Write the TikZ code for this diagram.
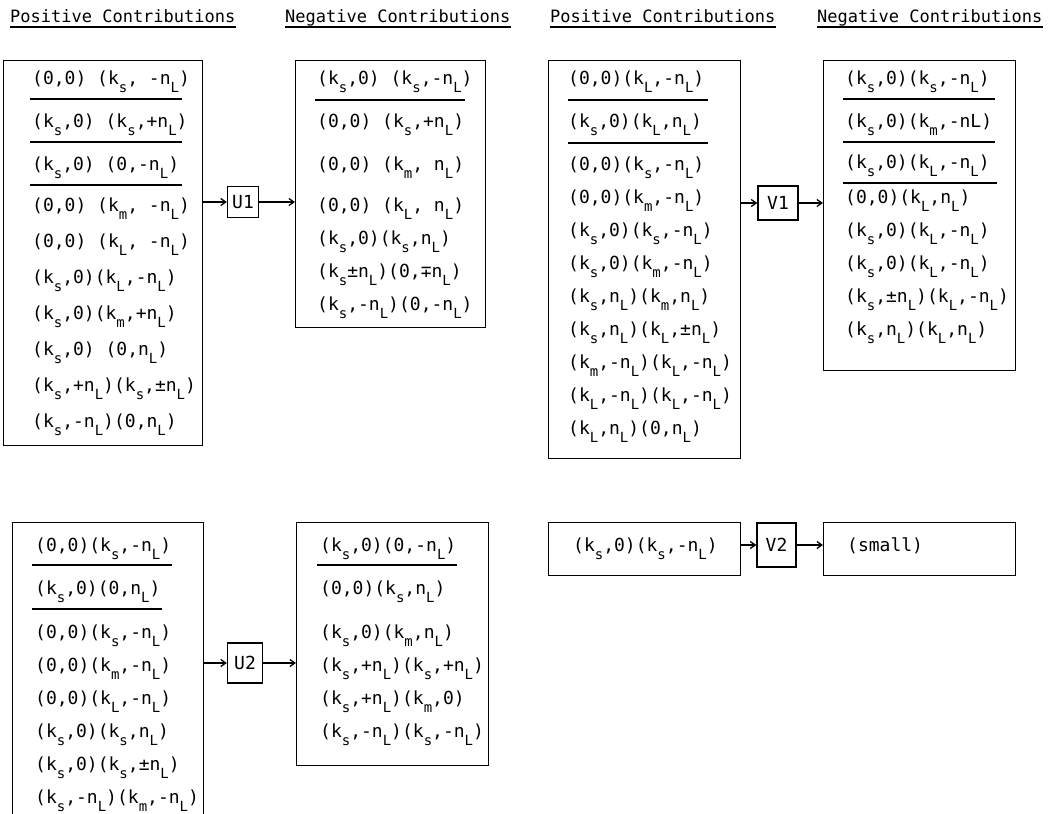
\documentclass[tikz,border=0pt]{standalone}
\usepackage{fontspec}
\newfontfamily\tw{DejaVu Sans Mono}
\usetikzlibrary{arrows.meta}
% lowered (typewriter-style) subscript
\newcommand\lo[1]{\raisebox{-0.45em}{\fontsize{14}{14}\selectfont #1}}
\newcommand\ks{k\lo{s}}
\newcommand\km{k\lo{m}}
\newcommand\kL{k\lo{L}}
\newcommand\nL{n\lo{L}}
\tikzset{
  frame/.style={draw, line width=1.3pt, inner sep=0pt, anchor=north west},
  op/.style={draw, line width=1.3pt, inner sep=0pt, font=\tw\fontsize{18}{18}\selectfont},
  row/.style={anchor=base west, inner sep=0pt, font=\tw\fontsize{18}{18}\selectfont},
  head/.style={anchor=base west, inner sep=0pt, font=\tw\fontsize{17}{17}\selectfont},
  rule/.style={line width=1.1pt},
  arr/.style={line width=1.3pt, -{Straight Barb[length=5pt,width=7pt]}},
}
\begin{document}
\begin{tikzpicture}[x=1pt,y=-1pt]
\useasboundingbox[fill=white] (0,0) rectangle (1061,814);

% column headings
\node[head] (h1) at (10,22) {Positive Contributions};
\node[head] (h2) at (285,22) {Negative Contributions};
\node[head] (h3) at (550,22) {Positive Contributions};
\node[head] (h4) at (817,22) {Negative Contributions};
\foreach \h in {h1,h2,h3,h4}
  \draw[rule] ([yshift=-5pt]\h.base west) -- ([yshift=-5pt]\h.base east);

% ---------- U1 ----------
\node[frame, minimum width=199pt, minimum height=385pt] (b1) at (3,60) {};
\node[row] (b1r1) at (32,84) {(0,0) (\ks, -\nL)};
\node[row] (b1r2) at (32,127) {(\ks,0) (\ks,+\nL)};
\node[row] (b1r3) at (32,170) {(\ks,0) (0,-\nL)};
\node[row] (b1r4) at (32,211) {(0,0) (\km, -\nL)};
\node[row] (b1r5) at (32,247) {(0,0) (\kL, -\nL)};
\node[row] (b1r6) at (32,283) {(\ks,0)(\kL,-\nL )};
\node[row] (b1r7) at (32,319) {(\ks,0)(\km,+\nL )};
\node[row] (b1r8) at (32,355) {(\ks,0) (0,\nL )};
\node[row] (b1r9) at (32,391) {(\ks,+\nL)(\ks,±\nL)};
\node[row] (b1r10) at (32,427) {(\ks,-\nL)(0,\nL)};
\draw[rule] (30,99) -- (182,99);
\draw[rule] (30,142) -- (182,142);
\draw[rule] (30,185) -- (182,185);

\node[op, minimum width=31pt, minimum height=31pt] (U1) at (243,202) {U1};

\node[frame, minimum width=190pt, minimum height=267pt] (b2) at (295,60) {};
\node[row] (b2r1) at (317,84) {(\ks,0) (\ks,-\nL)};
\node[row] (b2r2) at (317,127) {(0,0) (\ks,+\nL )};
\node[row] (b2r3) at (317,170) {(0,0) (\km, \nL )};
\node[row] (b2r4) at (317,211) {(0,0) (\kL, \nL)};
\node[row] (b2r5) at (317,244) {(\ks,0)(\ks,\nL)};
\node[row] (b2r6) at (317,277) {(\ks±\nL)(0,∓\nL)};
\node[row] (b2r7) at (317,310) {(\ks,-\nL)(0,-\nL)};
\draw[rule] (315,100) -- (465,100);

\draw[arr] (U1.west -| b1.east) -- (U1.west);
\draw[arr] (U1.east) -- (U1.east -| b2.west);

% ---------- V1 ----------
\node[frame, minimum width=192pt, minimum height=398pt] (b3) at (548,60) {};
\node[row] (b3r1) at (568,84) {(0,0)(\kL,-\nL)};
\node[row] (b3r2) at (568,127) {(\ks,0)(\kL,\nL)};
\node[row] (b3r3) at (568,170) {(0,0)(\ks,-\nL)};
\node[row] (b3r4) at (568,203) {(0,0)(\km,-\nL)};
\node[row] (b3r5) at (568,236) {(\ks,0)(\ks,-\nL)};
\node[row] (b3r6) at (568,269) {(\ks,0)(\km,-\nL)};
\node[row] (b3r7) at (568,302) {(\ks,\nL)(\km,\nL)};
\node[row] (b3r8) at (568,335) {(\ks,\nL)(\kL,±\nL)};
\node[row] (b3r9) at (568,368) {(\km,-\nL)(\kL,-\nL)};
\node[row] (b3r10) at (568,401) {(\kL,-\nL)(\kL,-\nL)};
\node[row] (b3r11) at (568,434) {(\kL,\nL)(0,\nL)};
\draw[rule] (568,100) -- (708,100);
\draw[rule] (568,143) -- (708,143);

\node[op, minimum width=40pt, minimum height=34pt] (V1) at (778,203) {V1};

\node[frame, minimum width=192pt, minimum height=310pt] (b4) at (823,60) {};
\node[row] (b4r1) at (845,84) {(\ks,0)(\ks,-\nL)};
\node[row] (b4r2) at (845,127) {(\ks,0)(\km,-nL)};
\node[row] (b4r3) at (845,168) {(\ks,0)(\kL,-\nL)};
\node[row] (b4r4) at (845,203) {(0,0)(\kL,\nL)};
\node[row] (b4r5) at (845,236) {(\ks,0)(\kL,-\nL)};
\node[row] (b4r6) at (845,269) {(\ks,0)(\kL,-\nL)};
\node[row] (b4r7) at (845,302) {(\ks,±\nL)(\kL,-\nL)};
\node[row] (b4r8) at (845,335) {(\ks,\nL)(\kL,\nL)};
\draw[rule] (843,99) -- (995,99);
\draw[rule] (843,142) -- (995,142);
\draw[rule] (843,183) -- (997,183);

\draw[arr] (V1.west -| b3.east) -- (V1.west);
\draw[arr] (V1.east) -- (V1.east -| b4.west);

% ---------- U2 ----------
\node[frame, minimum width=191pt, minimum height=320pt] (b5) at (12,522) {};
\node[row] (b5r1) at (35,551) {(0,0)(\ks,-\nL)};
\node[row] (b5r2) at (35,594) {(\ks,0)(0,\nL)};
\node[row] (b5r3) at (35,638) {(0,0)(\ks,-\nL)};
\node[row] (b5r4) at (35,671) {(0,0)(\km,-\nL)};
\node[row] (b5r5) at (35,704) {(0,0)(\kL,-\nL)};
\node[row] (b5r6) at (35,737) {(\ks,0)(\ks,\nL)};
\node[row] (b5r7) at (35,770) {(\ks,0)(\ks,±\nL)};
\node[row] (b5r8) at (35,803) {(\ks,-\nL)(\km,-\nL)};
\draw[rule] (32,565) -- (172,565);
\draw[rule] (32,609) -- (162,609);

\node[op, minimum width=35pt, minimum height=40pt] (U2) at (245,663) {U2};

\node[frame, minimum width=192pt, minimum height=243pt] (b6) at (296,522) {};
\node[row] (b6r1) at (320,551) {(\ks,0)(0,-\nL)};
\node[row] (b6r2) at (320,594) {(0,0)(\ks,\nL)};
\node[row] (b6r3) at (320,638) {(\ks,0)(\km,\nL)};
\node[row] (b6r4) at (320,671) {(\ks,+\nL)(\ks,+\nL)};
\node[row] (b6r5) at (320,704) {(\ks,+\nL)(\km,0)};
\node[row] (b6r6) at (320,737) {(\ks,-\nL)(\ks,-\nL)};
\draw[rule] (317,565) -- (457,565);

\draw[arr] (U2.west -| b5.east) -- (U2.west);
\draw[arr] (U2.east) -- (U2.east -| b6.west);

% ---------- V2 ----------
\node[frame, minimum width=192pt, minimum height=53pt] (b7) at (548,522) {};
\node[row] (b7r1) at (573,551) {(\ks,0)(\ks,-\nL)};
\node[op, minimum width=39pt, minimum height=44pt] (V2) at (776.5,545) {V2};
\node[frame, minimum width=192pt, minimum height=53pt] (b8) at (823,522) {};
\node[row] (b8r1) at (847,551) {(small)};

\draw[arr] (V2.west -| b7.east) -- (V2.west);
\draw[arr] (V2.east) -- (V2.east -| b8.west);
\end{tikzpicture}
\end{document}
